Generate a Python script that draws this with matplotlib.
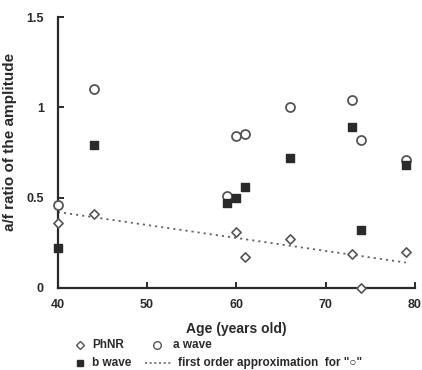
import matplotlib
matplotlib.use("Agg")
import matplotlib.pyplot as plt
from matplotlib.lines import Line2D

plt.rcParams["font.family"] = ["Liberation Sans", "DejaVu Sans"]
plt.rcParams["font.weight"] = "bold"

# ages and amplitude ratios
a_age = [40, 44, 59, 60, 61, 66, 73, 74, 79]
a_ratio = [0.46, 1.10, 0.51, 0.84, 0.85, 1.00, 1.04, 0.82, 0.71]

b_age = [40, 44, 59, 60, 61, 66, 73, 74, 79]
b_ratio = [0.22, 0.79, 0.47, 0.50, 0.56, 0.72, 0.89, 0.32, 0.68]

phnr_age = [40, 44, 60, 61, 66, 73, 74, 79]
phnr_ratio = [0.36, 0.41, 0.31, 0.17, 0.27, 0.19, 0.00, 0.20]

fit_age = [40, 79]
fit_ratio = [0.42, 0.14]

xticks = [40, 50, 60, 70, 80]
yticks = [0, 0.5, 1, 1.5]
ytick_labels = ["0", "0.5", "1", "1.5"]

edge = "#555555"
dark = "#2a2a2a"
W, H = 422, 370

fig = plt.figure(figsize=(W / 100, H / 100), dpi=100)
ax = fig.add_axes([0.137, 0.222, 0.846, 0.732])

ax.plot(fit_age, fit_ratio, linestyle=(0, (1.2, 2.2)), color="#666666", lw=1.3, zorder=1)
ax.scatter(phnr_age, phnr_ratio, marker="D", s=22, facecolor="white", edgecolor=edge, linewidth=1.2, zorder=3, clip_on=False)
ax.scatter(a_age, a_ratio, marker="o", s=42, facecolor="white", edgecolor=edge, linewidth=1.3, zorder=3, clip_on=False)
ax.scatter(b_age, b_ratio, marker="s", s=36, facecolor=dark, edgecolor=dark, zorder=4, clip_on=False)

ax.set_xlim(40, 80)
ax.set_ylim(0, 1.5)
ax.set_xticks(xticks)
ax.set_yticks(yticks)
ax.set_yticklabels(ytick_labels)
for s in ["top", "right"]:
    ax.spines[s].set_visible(False)
for s in ["left", "bottom"]:
    ax.spines[s].set_linewidth(1.6)
    ax.spines[s].set_color(dark)
ax.tick_params(direction="in", length=4, width=1.4, colors=dark, labelsize=9, pad=8)
ax.tick_params(axis="y", pad=10)

ax.set_xlabel("Age (years old)", fontsize=10, fontweight="bold", color=dark, labelpad=8)
ax.set_ylabel("a/f ratio of the amplitude", fontsize=11, fontweight="bold", color=dark)
ax.yaxis.set_label_coords(-0.115, 0.54)

# legend, laid out by hand in pixel positions
def fx(px):
    return px / W

def fy(py):
    return 1 - py / H

fig.add_artist(Line2D([fx(80)], [fy(345)], marker="D", ls="none", ms=4, mfc="white", mec=edge, mew=1.0, transform=fig.transFigure))
fig.add_artist(Line2D([fx(157)], [fy(345)], marker="o", ls="none", ms=5.5, mfc="white", mec=edge, mew=1.0, transform=fig.transFigure))
fig.add_artist(Line2D([fx(80)], [fy(363)], marker="s", ls="none", ms=5, mfc=dark, mec=dark, transform=fig.transFigure))
fig.add_artist(Line2D([fx(145), fx(172)], [fy(363), fy(363)], ls=(0, (1.2, 1.6)), color="#666666", lw=1.2, transform=fig.transFigure))

legend_items = [("PhNR", 92, 345), ("a wave", 173, 345), ("b wave", 92, 363),
                ('first order approximation  for "\u25cb"', 178, 363)]
for txt, px, py in legend_items:
    fig.text(fx(px), fy(py), txt, ha="left", va="center", fontsize=8.5, fontweight="bold", color=dark)

fig.savefig("out.png", dpi=100)
